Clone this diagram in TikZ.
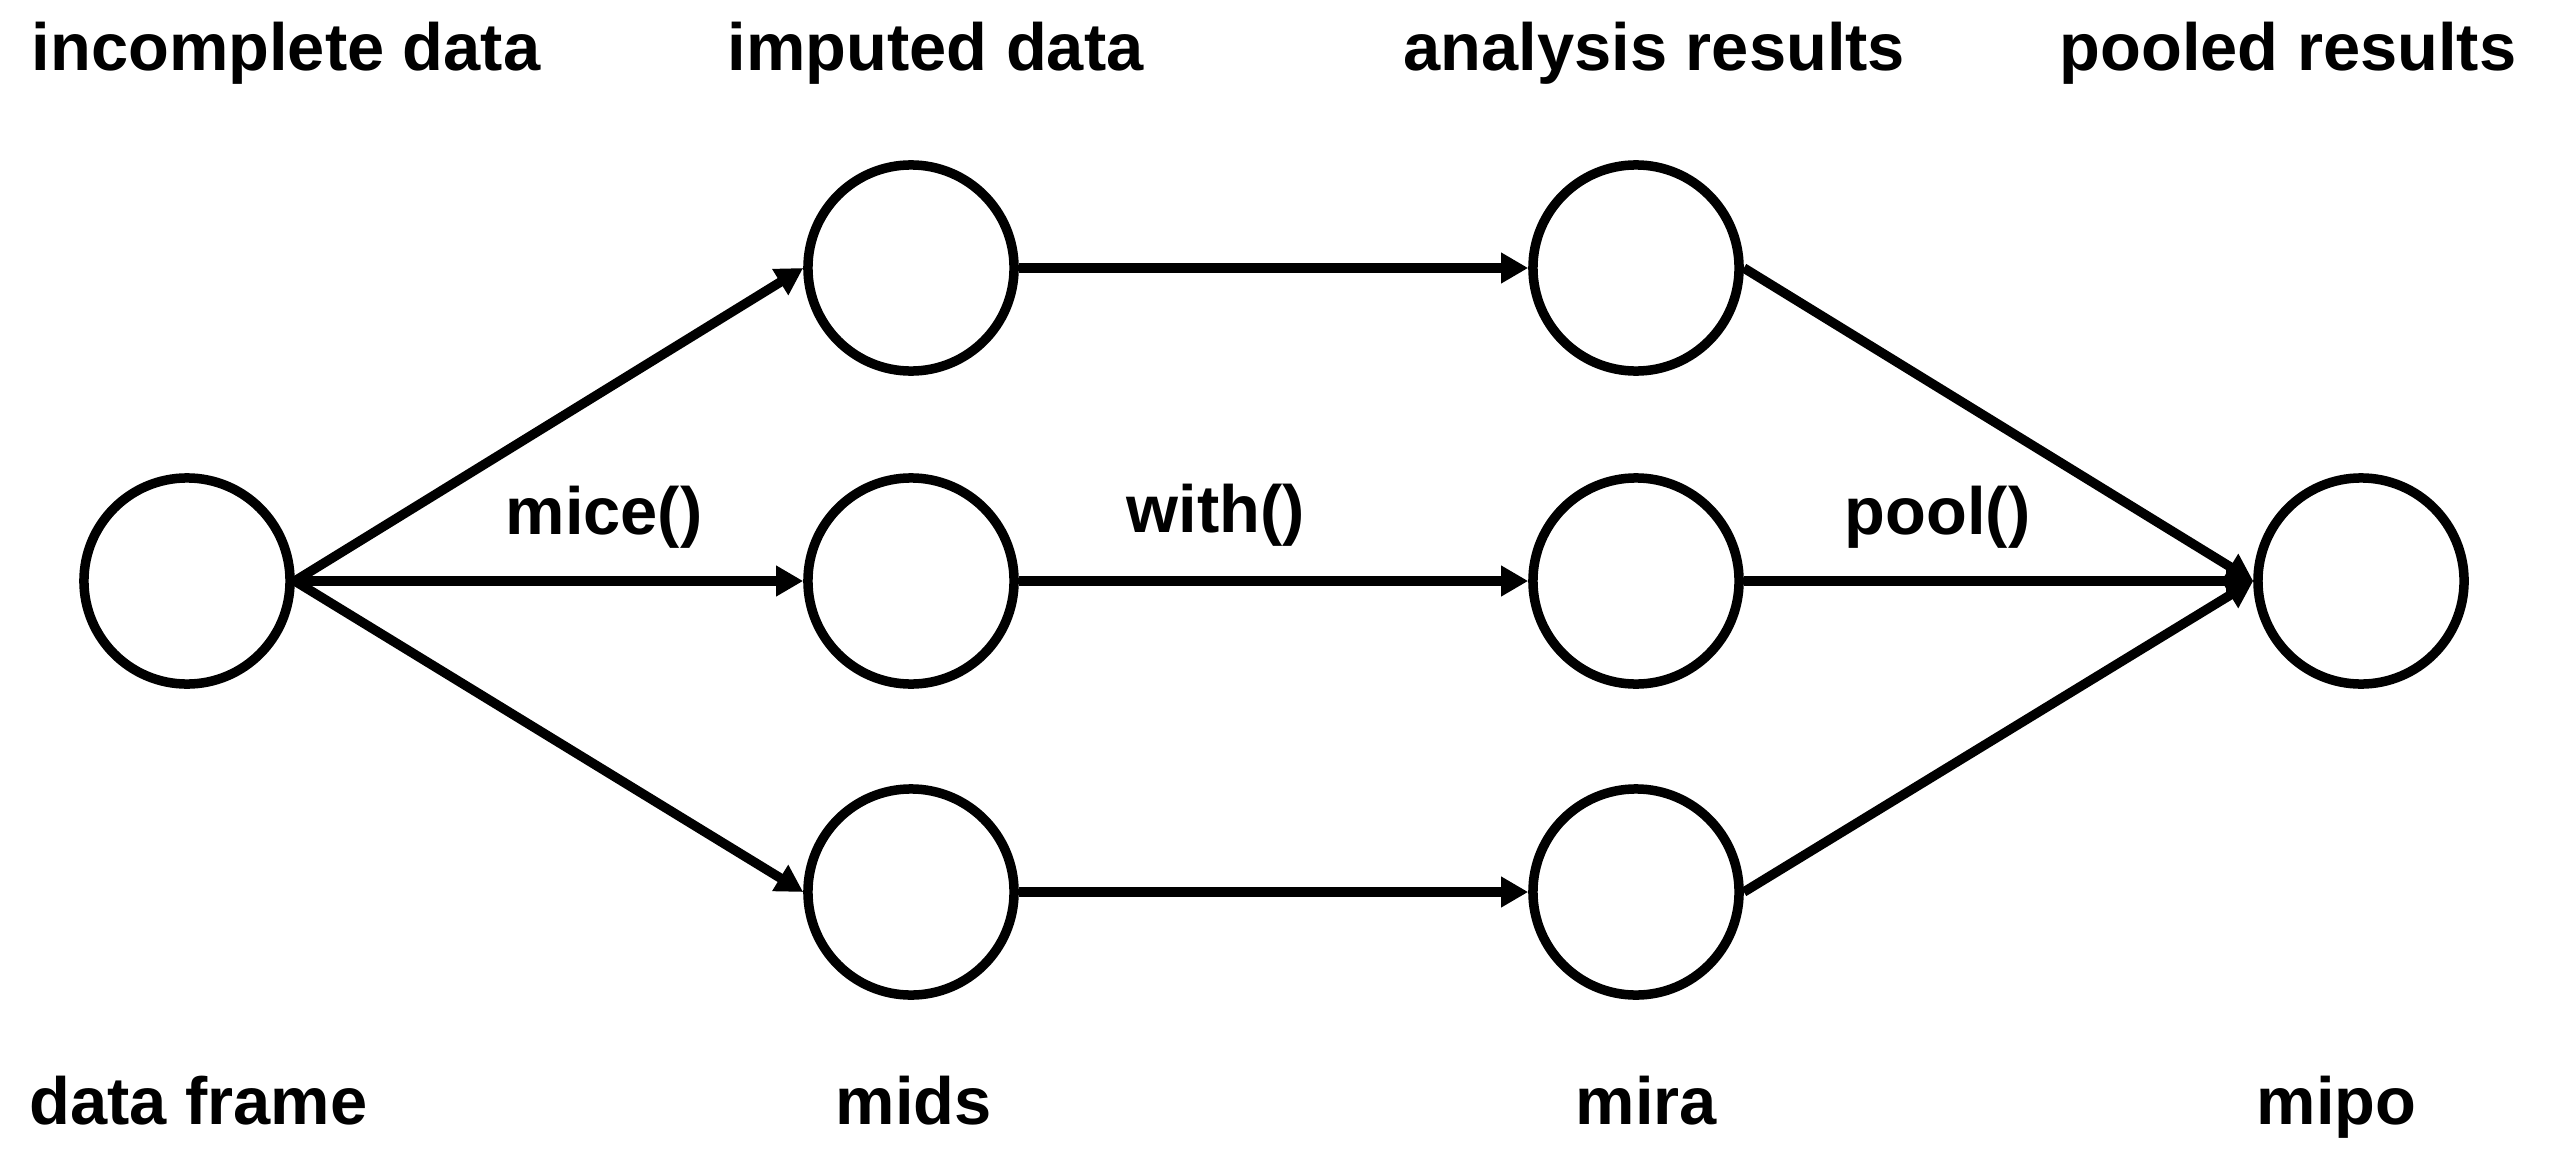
\documentclass[tikz,border=0pt]{standalone}
\usepackage{fontspec}
\setmainfont{Liberation Sans}
\usetikzlibrary{arrows.meta}
\begin{document}
\begin{tikzpicture}[x=0.01cm,y=-0.01cm,
  obj/.style={circle,draw,line width=0.095cm,inner sep=0pt,minimum size=2.06cm},
  flow/.style={line width=0.095cm,-{Triangle[length=0.27cm,width=0.29cm]}},
  txt/.style={anchor=base west,inner sep=0pt,font=\fontsize{19}{23}\selectfont\bfseries}]
\useasboundingbox (0,0) rectangle (2552,1176);
% objects
\node[obj] (df) at (187,581) {};
\node[obj] (m1) at (911,268) {};
\node[obj] (m2) at (911,581) {};
\node[obj] (m3) at (911,892) {};
\node[obj] (a1) at (1636,268) {};
\node[obj] (a2) at (1636,581) {};
\node[obj] (a3) at (1636,892) {};
\node[obj] (po) at (2361,581) {};
% connectors
\foreach \m in {m1,m2,m3} \draw[flow] (df.east) -- (\m.west);
\draw[flow] (m1.east) -- (a1.west);
\draw[flow] (m2.east) -- (a2.west);
\draw[flow] (m3.east) -- (a3.west);
\foreach \a in {a1,a2,a3} \draw[flow] (\a.east) -- (po.west);
% headings
\node[txt] (h1) at (31,71) {incomplete data};
\node[txt] (h2) at (727,71) {imputed data};
\node[txt] (h3) at (1403,71) {analysis results};
\node[txt] (h4) at (2059,71) {pooled results};
% class names
\node[txt] (c1) at (29,1124) {data frame};
\node[txt] (c2) at (835,1124) {mids};
\node[txt] (c3) at (1575,1124) {mira};
\node[txt] (c4) at (2256,1124) {mipo};
% functions
\node[txt] (f1) at (505,534) {mice()};
\node[txt] (f2) at (1126,532) {with()};
\node[txt] (f3) at (1844,534) {pool()};
\end{tikzpicture}
\end{document}
